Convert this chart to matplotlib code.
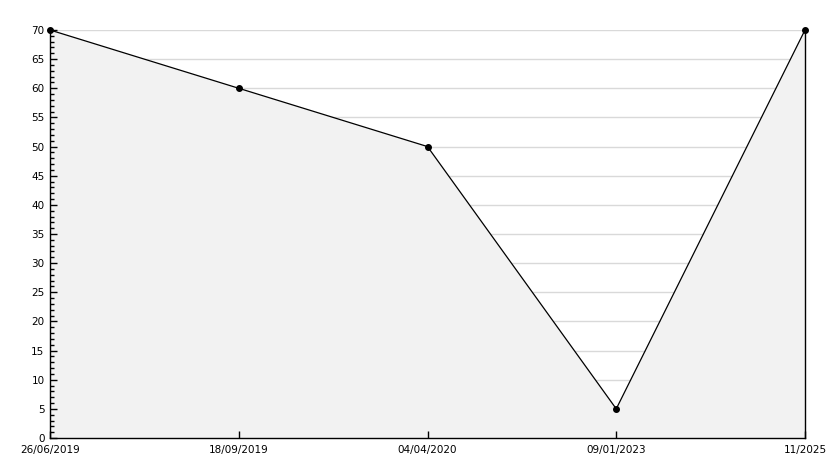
import matplotlib
matplotlib.use("Agg")
import matplotlib.pyplot as plt
from matplotlib.ticker import MultipleLocator

dates = ['26/06/2019', '18/09/2019', '04/04/2020', '09/01/2023', '11/2025']
values = [70, 60, 50, 5, 70]
grid_levels = list(range(5, 75, 5))

fig = plt.figure(figsize=(8.34, 4.68), dpi=100)
ax = fig.add_axes([50 / 834, 1 - 438 / 468, 755 / 834, 408 / 468])

x = list(range(len(dates)))
# gridlines sit behind the filled area
ax.hlines(grid_levels, 0, len(dates) - 1, color='#d9d9d9', linewidth=1, zorder=0.2)
ax.fill_between(x, values, 0, color='#f2f2f2', zorder=1, linewidth=0)
ax.plot(x, values, color='black', linewidth=0.9, marker='o', markersize=4, zorder=3,
        clip_on=False)

ax.set_xlim(0, len(dates) - 1)
ax.set_ylim(0, 70)
ax.yaxis.set_major_locator(MultipleLocator(5))
ax.yaxis.set_minor_locator(MultipleLocator(1))
ax.set_xticks(x)
ax.set_xticklabels(dates)

for s in ['left', 'bottom', 'right']:
    ax.spines[s].set_color('black')
    ax.spines[s].set_linewidth(1)
ax.spines['top'].set_visible(False)

ax.tick_params(axis='y', which='major', direction='in', length=5, width=1, labelsize=7.5, pad=4,
               right=False)
ax.tick_params(axis='y', which='minor', direction='in', length=3, width=1, right=False)
ax.tick_params(axis='x', direction='in', length=5, width=1, labelsize=7.5, pad=5)
ax.tick_params(axis='x', which='minor', bottom=False)

fig.savefig('out.png', dpi=100)
